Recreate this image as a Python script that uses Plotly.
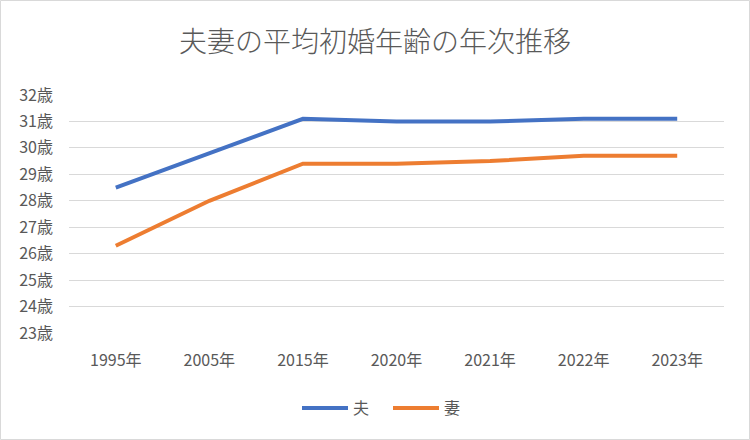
import plotly.graph_objects as go

years = ["1995年", "2005年", "2015年", "2020年", "2021年", "2022年", "2023年"]
husband = [28.5, 29.8, 31.1, 31.0, 31.0, 31.1, 31.1]
wife = [26.3, 28.0, 29.4, 29.4, 29.5, 29.7, 29.7]
y_ticks = list(range(23, 33))
y_labels = [f"{v}歳" for v in y_ticks]

FONT = "Noto Sans CJK JP"
W, H = 750, 440
L, R, T, B = 69, 26, 95, 107
pw, ph = W - L - R, H - T - B

fig = go.Figure()
fig.add_trace(go.Scatter(x=years, y=husband, mode="lines", name="夫",
                         line=dict(color="#4472C4", width=4)))
fig.add_trace(go.Scatter(x=years, y=wife, mode="lines", name="妻",
                         line=dict(color="#ED7D31", width=4)))

fig.update_layout(
    width=W, height=H,
    margin=dict(l=L, r=R, t=T, b=B, autoexpand=False),
    paper_bgcolor="white", plot_bgcolor="white",
    font=dict(family=FONT, color="#595959", size=16),
    title=dict(text="夫妻の平均初婚年齢の年次推移", x=0.5, xanchor="center",
               y=1 - 42 / H, yanchor="middle",
               font=dict(size=28, color="#595959", family=FONT, weight=300)),
    showlegend=True,
    legend=dict(orientation="h", x=(388 - L) / pw, xanchor="center",
                y=-(408 - 333) / ph, yanchor="middle",
                itemwidth=46, entrywidth=30, entrywidthmode="pixels",
                font=dict(size=16, color="#595959")),
    xaxis=dict(type="category", range=[-0.5, 6.5], showgrid=False, showline=False,
               zeroline=False, ticks="", automargin=False, ticklabelstandoff=16,
               tickfont=dict(size=16)),
    yaxis=dict(range=[23, 32], tickvals=y_ticks, ticktext=y_labels,
               showgrid=True, gridcolor="#D9D9D9", gridwidth=1,
               zeroline=False, showline=False, ticks="", automargin=False,
               ticklabelstandoff=15, tickfont=dict(size=16)),
    shapes=[dict(type="rect", xref="paper", yref="paper",
                 x0=-(L - 0.5) / pw, x1=(W - L - 0.5) / pw,
                 y0=-(B - 0.5) / ph, y1=(H - B - 0.5) / ph,
                 line=dict(color="#D9D9D9", width=1))],
)

# the page's default body margin would shift the chart by 8px
fig.write_html("out.html", config={"displayModeBar": False},
               post_script="document.body.style.margin='0';")
